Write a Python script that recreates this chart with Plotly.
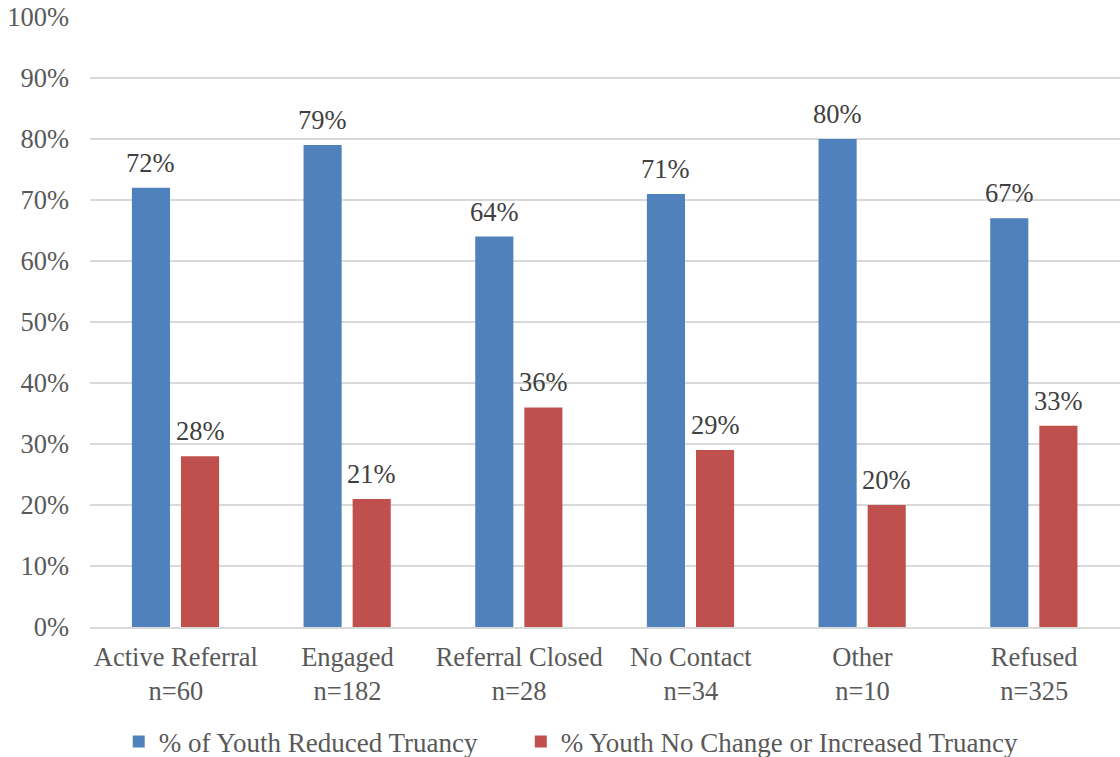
import plotly.graph_objects as go

categories = ["Active Referral", "Engaged", "Referral Closed", "No Contact", "Other", "Refused"]
sample_sizes = [60, 182, 28, 34, 10, 325]
reduced_pct = [72, 79, 64, 71, 80, 67]
no_change_pct = [28, 21, 36, 29, 20, 33]
y_ticks = list(range(0, 101, 10))

x_labels = [f"{c}<br>n={n}" for c, n in zip(categories, sample_sizes)]

FONT = "Liberation Serif, Times New Roman, serif"
BLUE = "#4F81BD"
RED = "#C0504D"
BAR_W = 0.222
OFFSETS = {"blue": -0.256, "red": 0.03}

fig = go.Figure()
fig.add_trace(go.Bar(
    x=x_labels, y=reduced_pct, name="% of Youth Reduced Truancy",
    marker=dict(color=BLUE, line=dict(width=0)),
    width=BAR_W, offset=OFFSETS["blue"], legend="legend",
))
fig.add_trace(go.Bar(
    x=x_labels, y=no_change_pct, name="% Youth No Change or Increased Truancy",
    marker=dict(color=RED, line=dict(width=0)),
    width=BAR_W, offset=OFFSETS["red"], legend="legend2",
))

# value labels centred over each bar
annotations = []
for series, key in ((reduced_pct, "blue"), (no_change_pct, "red")):
    for i, v in enumerate(series):
        annotations.append(dict(
            x=i + OFFSETS[key] + BAR_W / 2, y=v, xref="x", yref="y",
            text=f"{v}%", showarrow=False, yanchor="bottom", yshift=8,
            font=dict(family=FONT, size=26.5, color="#404040"),
        ))

legend_common = dict(
    orientation="h", xref="container", yref="container",
    xanchor="left", y=0.02, yanchor="middle",
    font=dict(family=FONT, size=27, color="#595959"),
    itemwidth=30,
)

fig.update_layout(
    width=1120, height=757,
    margin=dict(l=90, r=0, t=17, b=130, autoexpand=False),
    paper_bgcolor="white", plot_bgcolor="white",
    barmode="overlay",
    font=dict(family=FONT, size=26.5, color="#595959"),
    showlegend=True,
    legend=dict(x=0.106, **legend_common),
    legend2=dict(x=0.465, **legend_common),
    annotations=annotations,
)
fig.update_xaxes(
    type="category", showgrid=False, zeroline=False, automargin=False,
    showline=True, linecolor="#D9D9D9", linewidth=2,
    ticks="", ticklabelstandoff=5,
    tickfont=dict(family=FONT, size=26.5, color="#595959"),
)
fig.update_yaxes(
    range=[0, 100], tickvals=y_ticks, ticktext=[f"{t}%" for t in y_ticks],
    showgrid=True, gridcolor="#D9D9D9", gridwidth=2, automargin=False,
    zeroline=False, showline=False, ticks="", ticklabelstandoff=20,
    tickfont=dict(family=FONT, size=26.5, color="#595959"),
)

fig.write_html("out.html")
